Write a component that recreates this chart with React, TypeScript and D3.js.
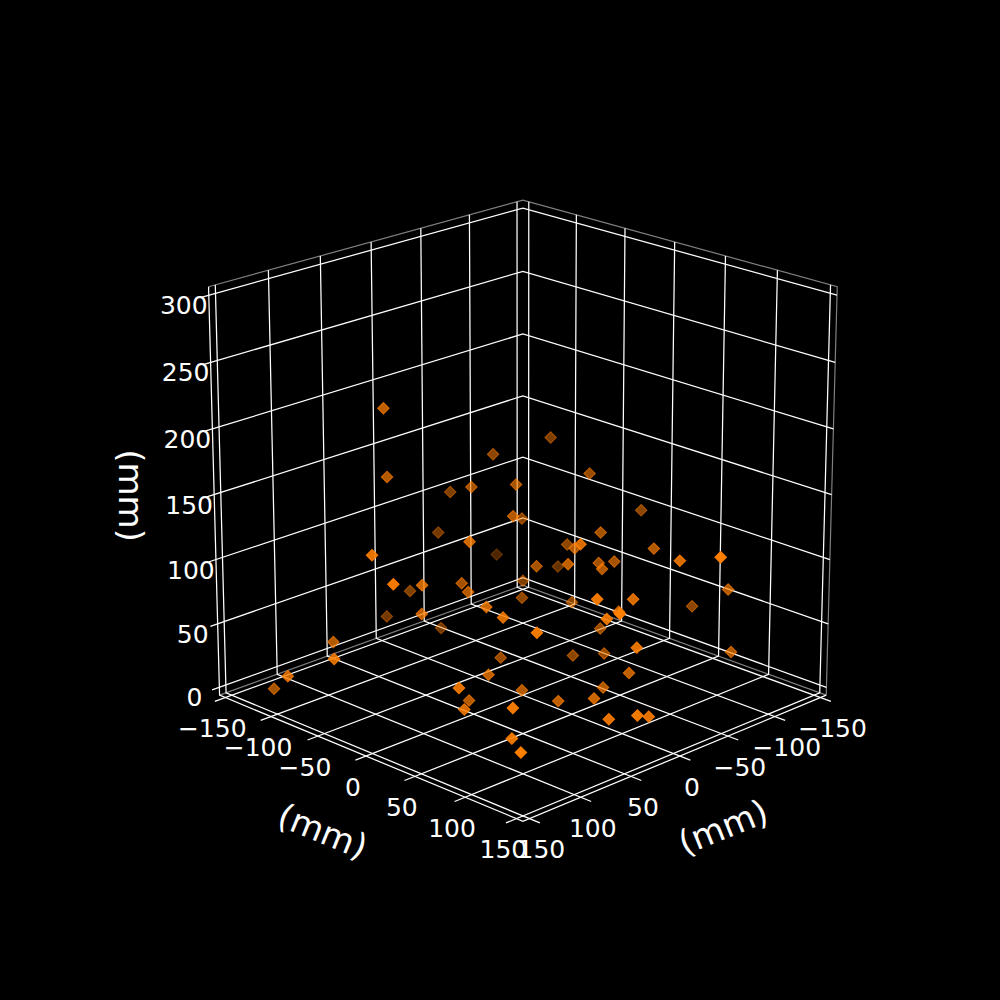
import React from 'react';
import * as d3 from 'd3';

const xs = [45,45,-46,-28,-8,-31,-90,-82,-113,108,-25,35,-13,-50,-84,-27,-93,112,11,67,14,23,-50,-36,17,61,38,42,-9,49,-3,-66,-69,-39,-10,-79,-57,-46,-22,-60,-49,-68,-110,-123,-61,13,-27,-28,16,1,-60,-9,-52,-57,-101,-34,38,87,13,-29,45,7,-1,77,74,17,13,-3,72,88,130,150,101,134];
const ys = [-97,-94,-77,-104,-61,-38,-61,-13,10,-43,-114,-19,-23,-51,-112,-13,-56,-17,-107,-35,-49,-33,-50,-37,-126,-42,1,22,-95,63,-26,14,-23,14,48,55,101,150,24,18,32,26,100,53,-10,87,84,69,112,85,20,105,0,27,112,74,3,23,12,53,-10,43,71,18,64,103,127,123,61,86,-126,-88,-93,-56];
const zs = [203,151,150,118,138,140,156,142,111,121,84,118,124,105,51,84,54,107,49,89,72,72,56,50,25,63,74,73,17,75,15,107,87,102,122,102,111,130,97,86,88,87,74,44,47,97,85,71,94,78,35,59,10,18,31,23,22,32,5,7,0,4,12,11,25,11,20,13,0,2,0,27,38,45];

const xyTicks = [-150, -100, -50, 0, 50, 100, 150];
const zTicks = [0, 50, 100, 150, 200, 250, 300];
const axisLabel = '(mm)';

const orange = '#ff7f00';
const xyLim = 156.25;
const zMin = -6.25;
const zMax = 306.25;

const elev = (20 * Math.PI) / 180;
const azim = (45 * Math.PI) / 180;
const dist = 10;
const focal = 4162.2;
const cx = 522.9;
const cy = 494.6;

const scaleXY = d3.scaleLinear().domain([-xyLim, xyLim]).range([-0.5245, 0.5245]);
const scaleZ = d3.scaleLinear().domain([zMin, zMax]).range([-0.522, 0.522]);

// camera basis for the mplot3d style view
const u = [-Math.sin(azim), Math.cos(azim), 0];
const v = [-Math.sin(elev) * Math.cos(azim), -Math.sin(elev) * Math.sin(azim), Math.cos(elev)];
const w = [Math.cos(elev) * Math.cos(azim), Math.cos(elev) * Math.sin(azim), Math.sin(elev)];

function camera(x: number, y: number, z: number) {
  const p = [scaleXY(x), scaleXY(y), scaleZ(z)];
  const dot = (b: number[]) => p[0] * b[0] + p[1] * b[1] + p[2] * b[2];
  return { xc: dot(u), yc: dot(v), zc: dot(w) };
}

function project(x: number, y: number, z: number): [number, number] {
  const { xc, yc, zc } = camera(x, y, z);
  const d = dist - zc;
  return [cx + (focal * xc) / d, cy - (focal * yc) / d];
}

const line = d3.line();
const path3d = (pts: number[][]) => line(pts.map((p) => project(p[0], p[1], p[2]))) as string;

const depths = xs.map((x, i) => camera(x, ys[i], zs[i]).zc);
const alpha = d3.scaleLinear().domain(d3.extent(depths) as [number, number]).range([0.3, 1]);
const order = d3.range(xs.length).sort((a, b) => depths[a] - depths[b]);
const diamond = d3.symbol(d3.symbolSquare, 67)() as string;

const fmt = (n: number) => String(n).replace('-', '\u2212');
const font = 'DejaVu Sans, sans-serif';

export default function App() {
  const gridLines: string[] = [];
  xyTicks.forEach((t) => {
    gridLines.push(path3d([[t, xyLim + 10, zMin], [t, -xyLim, zMin], [t, -xyLim, zMax]]));
    gridLines.push(path3d([[xyLim + 10, t, zMin], [-xyLim, t, zMin], [-xyLim, t, zMax]]));
  });
  zTicks.forEach((t) => {
    gridLines.push(path3d([[xyLim + 7, -xyLim, t], [-xyLim, -xyLim, t], [-xyLim, xyLim, t]]));
  });

  const paneEdges = [
    path3d([[xyLim, -xyLim, zMax], [-xyLim, -xyLim, zMax], [-xyLim, xyLim, zMax], [-xyLim, xyLim, zMin]]),
    path3d([[xyLim, -xyLim, zMin], [-xyLim, -xyLim, zMin], [-xyLim, xyLim, zMin]]),
  ];
  const axisLines = [
    path3d([[xyLim, -xyLim, zMax], [xyLim, -xyLim, zMin], [xyLim, xyLim, zMin], [-xyLim, xyLim, zMin]]),
  ];

  const leftMid = project(xyLim, 0, zMin);
  const rightMid = project(0, xyLim, zMin);
  const zMid = project(xyLim, -xyLim, 150);

  return (
    <svg width={1000} height={1000} style={{ position: 'absolute', left: 0, top: 0 }} fontFamily={font}>
      <rect width={1000} height={1000} fill="#000" />
      {paneEdges.map((d, i) => (
        <path key={i} d={d} fill="none" stroke="#808080" strokeWidth={1.2} />
      ))}
      {gridLines.map((d, i) => (
        <path key={i} d={d} fill="none" stroke="#fff" strokeWidth={1.25} />
      ))}
      {axisLines.map((d, i) => (
        <path key={i} d={d} fill="none" stroke="#fff" strokeWidth={1.25} />
      ))}
      {order.map((i) => {
        const [px, py] = project(xs[i], ys[i], zs[i]);
        return (
          <path
            key={i}
            d={diamond}
            transform={`translate(${px},${py}) rotate(45)`}
            fill={orange}
            fillOpacity={alpha(depths[i])}
            stroke={orange}
            strokeOpacity={alpha(depths[i])}
            strokeWidth={1}
          />
        );
      })}
      <g fill="#fff" fontSize={25} textAnchor="middle" dominantBaseline="central">
        {xyTicks.map((t) => {
          const [lx, ly] = project(xyLim, t, zMin);
          const [rx, ry] = project(t, xyLim, zMin);
          return (
            <React.Fragment key={t}>
              <text x={lx - 13} y={ly + 31}>{fmt(t)}</text>
              <text x={rx + 12} y={ry + 31}>{fmt(t)}</text>
            </React.Fragment>
          );
        })}
        {zTicks.map((t) => {
          const [zx, zy] = project(xyLim, -xyLim, t);
          return (
            <text key={t} x={zx - 25} y={zy + 10.5}>{fmt(t)}</text>
          );
        })}
      </g>
      <g fill="#fff" fontSize={34} textAnchor="middle" dominantBaseline="central">
        <text transform={`translate(${leftMid[0] - 43},${leftMid[1] + 75}) rotate(22)`}>{axisLabel}</text>
        <text transform={`translate(${rightMid[0] + 43},${rightMid[1] + 71}) rotate(-22)`}>{axisLabel}</text>
        <text transform={`translate(${zMid[0] - 83},${zMid[1] + 1}) rotate(90)`}>{axisLabel}</text>
      </g>
    </svg>
  );
}
